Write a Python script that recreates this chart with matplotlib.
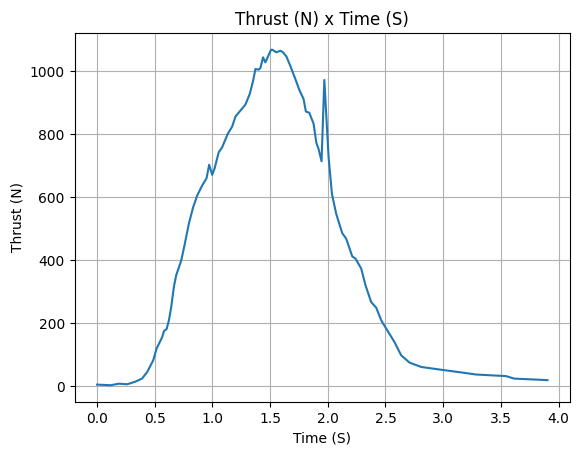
import matplotlib
matplotlib.use("Agg")
import matplotlib.pyplot as plt

time_s = [0.0, 0.118, 0.19, 0.26, 0.33, 0.39, 0.435, 0.487, 0.516, 0.565, 0.58, 0.603,
          0.623, 0.643, 0.666, 0.686, 0.73, 0.758, 0.796, 0.833, 0.868, 0.911, 0.949,
          0.972, 0.998, 1.018, 1.055, 1.084, 1.133, 1.171, 1.2, 1.243, 1.286, 1.324,
          1.353, 1.373, 1.401, 1.416, 1.439, 1.459, 1.508, 1.52, 1.554, 1.589, 1.612,
          1.641, 1.675, 1.719, 1.756, 1.79, 1.81, 1.84, 1.877, 1.9, 1.92, 1.946, 1.97,
          2.007, 2.036, 2.073, 2.125, 2.16, 2.212, 2.24, 2.29, 2.327, 2.376, 2.42,
          2.463, 2.506, 2.578, 2.636, 2.708, 2.809, 3.005, 3.17, 3.284, 3.544, 3.616,
          3.80, 3.904]
thrust_n = [5, 3, 8, 6, 14, 24, 45, 82, 119, 156, 175, 181,
            209, 251, 315, 352, 399, 447, 516, 568, 605, 637, 660,
            703, 671, 690, 743, 758, 801, 824, 856, 875, 894, 928,
            970, 1007, 1005, 1010, 1044, 1028, 1068, 1068, 1060, 1065, 1060,
            1047, 1017, 975, 938, 912, 872, 868, 833, 774, 753, 714, 972,
            727, 610, 547, 486, 468, 412, 405, 373, 320, 267, 249,
            209, 183, 140, 98, 75, 61, 51, 43, 37, 32, 24,
            21, 19]

fig = plt.figure(figsize=(5.8, 4.55), dpi=100)
ax = fig.add_axes([74.5 / 580, 1 - 402 / 455, (570 - 74.5) / 580, (402 - 33) / 455])
ax.plot(time_s, thrust_n, color="#1f77b4", linewidth=1.5)
ax.set_title("Thrust (N) x Time (S)")
ax.set_xlabel("Time (S)")
ax.set_ylabel("Thrust (N)")
ax.grid(True)
fig.savefig("out.png", dpi=100)
